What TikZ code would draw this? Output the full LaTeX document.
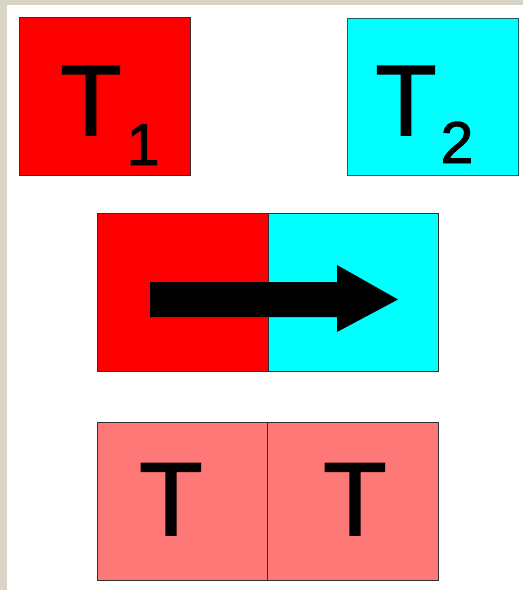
\documentclass[tikz,border=0pt]{standalone}
\usepackage{fontspec}
\setmainfont{Liberation Sans}
\newfontfamily\heavyfont[FakeBold=1.6]{Liberation Sans}
\definecolor{bgbeige}{HTML}{D9D5C6}
\definecolor{pinkish}{HTML}{FF7878}
\definecolor{aqua}{HTML}{00FFFF}
\definecolor{pure}{HTML}{FF0000}
\definecolor{edgec}{HTML}{303030}
\definecolor{aquaedge}{HTML}{1E5C5C}
\begin{document}
\begin{tikzpicture}[x=1pt,y=-1pt,
  box/.style={draw=edgec,line width=1.2pt,inner sep=0pt,anchor=north west},
  big/.style={font=\heavyfont\fontsize{100}{100}\selectfont,inner sep=0pt,anchor=base},
  sub/.style={font=\heavyfont\fontsize{59}{59}\selectfont,inner sep=0pt,anchor=base}]
\useasboundingbox (0,0) rectangle (523,590);
\fill[bgbeige] (0,0) rectangle (523,590);
\fill[white] (7,5) rectangle (523,590);
% top boxes
\node[box,fill=pure,minimum width=171pt,minimum height=158pt] (t1) at (19,17) {};
\node[box,fill=aqua,draw=aquaedge,minimum width=171pt,minimum height=157pt] (t2) at (347,18) {};
\node[big] (t1T) at (91,135) {T};
\node[sub] (t1s) at (143,165) {1};
\node[big] (t2T) at (406,135) {T};
\node[sub] (t2s) at (457,163) {2};
% middle
\node[box,fill=pure,minimum width=171pt,minimum height=158pt] (ml) at (97,213) {};
\node[box,fill=aqua,minimum width=170pt,minimum height=158pt] (mr) at (268,213) {};
\fill[black] (150,282) -- (337,282) -- (337,265) -- (398,299.5) -- (337,332) -- (337,317) -- (150,317) -- cycle;
% bottom
\node[box,fill=pinkish,minimum width=170pt,minimum height=158pt] (bl) at (97,422) {};
\node[box,fill=pinkish,minimum width=171pt,minimum height=158pt] (br) at (267,422) {};
\node[big,font=\heavyfont\fontsize{104}{104}\selectfont] (bT1) at (171,535) {T};
\node[big,font=\heavyfont\fontsize{104}{104}\selectfont] (bT2) at (355,535) {T};
\end{tikzpicture}
\end{document}
